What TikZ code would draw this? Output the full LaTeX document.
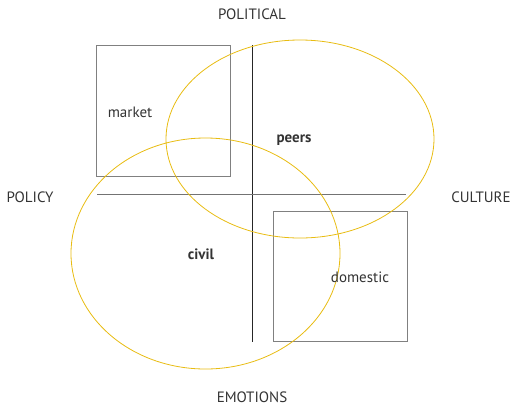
\documentclass[tikz,border=0pt]{standalone}
\usepackage{fontspec}
\setmainfont{PT Sans}
\definecolor{gold}{HTML}{E8BC12}
\definecolor{ink}{HTML}{333333}
\tikzset{
    lbl/.style={text=ink, font=\fontsize{15}{17}\selectfont, inner sep=0pt},
    boxline/.style={draw=gray, line width=0.9pt},
    ring/.style={draw=gold, line width=0.8pt}
}
\begin{document}
\begin{tikzpicture}[x=1pt, y=-1pt]
            \useasboundingbox (0,0) rectangle (512,408);

            \draw[black!85, line width=0.9pt] (252.5,45) -- (252.5,342);
            \draw[black!55, line width=0.9pt] (97,194) -- (406,194);

            \draw[boxline] (96,45) rectangle (230,176);
            \draw[boxline] (273,211) rectangle (407,341);

            \draw[ring] (300,139) ellipse [x radius=134, y radius=99];
            \draw[ring] (205.5,253.5) ellipse [x radius=134.5, y radius=115.5];

            \node[lbl] (political) at (252,14) {POLITICAL};
            \node[lbl] (emotions) at (252,397) {EMOTIONS};
            \node[lbl] (policy) at (30,197) {POLICY};
            \node[lbl] (culture) at (481,197) {CULTURE};

            \node[lbl] (market) at (130,112) {market};
            \node[lbl, font=\fontsize{15}{17}\selectfont\bfseries] (peers) at (294,140) {peers};
            \node[lbl, font=\fontsize{15}{17}\selectfont\bfseries] (civil) at (201,254) {civil};
            \node[lbl] (domestic) at (360,277) {domestic};
        \end{tikzpicture}
\end{document}
